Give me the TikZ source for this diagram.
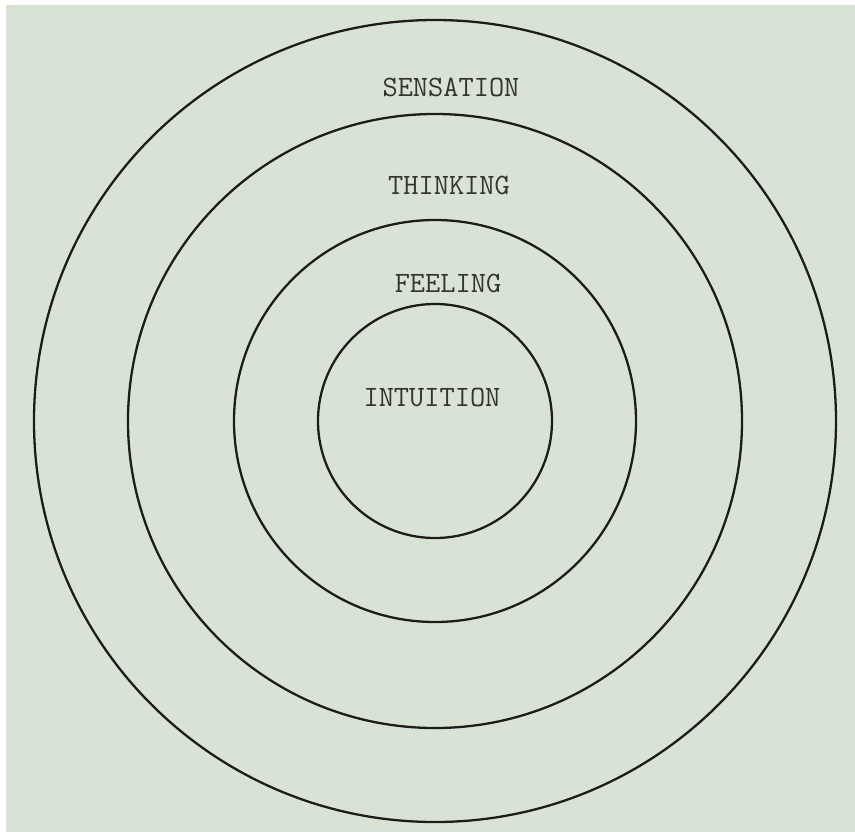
\documentclass[tikz,border=0pt]{standalone}
\definecolor{paper}{HTML}{D8E3D5}
\definecolor{ink}{HTML}{1C1C1A}
\definecolor{typeink}{HTML}{34342F}
\usepackage{tikz}
\usetikzlibrary{positioning}

\begin{document}
\begin{tikzpicture}[
    x=0.2mm, y=-0.2mm,
    ring/.style={circle, draw=ink, line width=1.3pt,
                 inner sep=0pt, outer sep=0pt},
    tag/.style={font=\ttfamily\fontsize{16.8}{20}\selectfont,
                text=typeink, inner sep=0pt}
  ]
  \useasboundingbox (0,0) rectangle (855,832);
  \fill[paper] (6,5) rectangle (855,832);

  % concentric rings
  \coordinate (mid) at (435,421);
  \node[ring, minimum size=160.4mm] (sens)  at (mid) {};
  \node[ring, minimum size=122.8mm] (think) at (mid) {};
  \node[ring, minimum size=80.4mm]  (feel)  at (mid) {};
  \node[ring, minimum size=46.8mm]  (intu)  at (mid) {};

  % labels
  \node[tag] (lsens)  at (451,87)  {SENSATION};
  \node[tag] (lthink) at (449,185) {THINKING};
  \node[tag] (lfeel)  at (448,283) {FEELING};
  \node[tag] (lintu)  at (432,397) {INTUITION};
\end{tikzpicture}
\end{document}
